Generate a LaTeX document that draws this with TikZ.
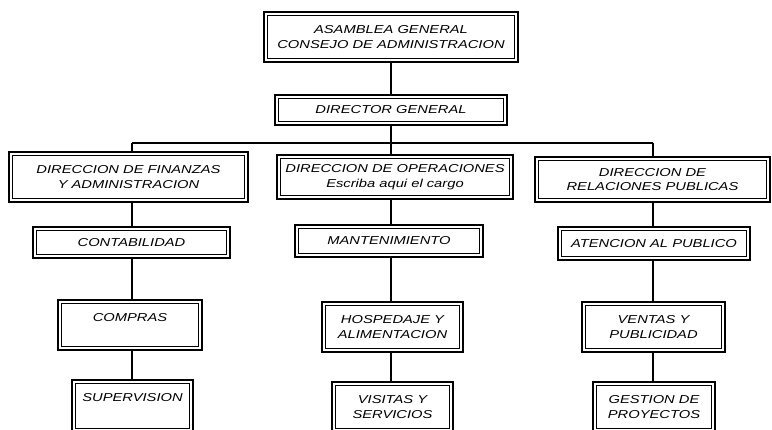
\documentclass[tikz,border=0pt]{standalone}
\usepackage{fontspec}
\setmainfont{Liberation Sans}[FakeStretch=1.28]
\begin{document}
\begin{tikzpicture}[x=1pt,y=-1pt,
  box/.style={draw=black, line width=2pt, fill=white, align=center, inner sep=0pt,
    font=\fontsize{11.5}{14.5}\selectfont\itshape,
    path picture={\draw[line width=0.7pt] ([shift={(3.5pt,-3.5pt)}]path picture bounding box.north west) rectangle ([shift={(-3.5pt,3.5pt)}]path picture bounding box.south east);}},
  conn/.style={draw=black, line width=1.1pt},
  bus/.style={draw=black, line width=1.6pt}]
\useasboundingbox (0,0) rectangle (772,430);
\fill[white] (0,0) rectangle (772,430);

\node[box, minimum width=254pt, minimum height=50pt] (A) at (391,37) {ASAMBLEA GENERAL\\CONSEJO DE ADMINISTRACION};
\node[box, minimum width=232pt, minimum height=30pt] (D) at (391,110) {DIRECTOR GENERAL};

\node[box, minimum width=239pt, minimum height=50pt] (F) at (128.5,177) {DIRECCION DE FINANZAS\\Y ADMINISTRACION};
\node[box, minimum width=236pt, minimum height=44pt] (O) at (395,177) {DIRECCION DE OPERACIONES\\Escriba aqui el cargo};
\node[box, minimum width=235pt, minimum height=45pt] (R) at (652.5,179.5) {DIRECCION DE\\RELACIONES PUBLICAS};

\node[box, minimum width=197pt, minimum height=31pt] (C) at (131.5,242.5) {CONTABILIDAD};
\node[box, minimum width=188pt, minimum height=32pt] (M) at (389,241) {MANTENIMIENTO};
\node[box, minimum width=192pt, minimum height=33pt] (At) at (654,243.5) {ATENCION AL PUBLICO};

\node[box, minimum width=144pt, minimum height=50pt, text depth=16pt] (Co) at (130,325) {COMPRAS};
\node[box, minimum width=141pt, minimum height=50pt] (H) at (392.5,327) {HOSPEDAJE Y\\ALIMENTACION};
\node[box, minimum width=143pt, minimum height=50pt] (V) at (653.5,327) {VENTAS Y\\PUBLICIDAD};

\node[box, minimum width=121pt, minimum height=52pt, text depth=18pt] (S) at (132.5,406) {SUPERVISION};
\node[box, minimum width=121pt, minimum height=50pt] (Vi) at (392.5,407) {VISITAS Y\\SERVICIOS};
\node[box, minimum width=122pt, minimum height=50pt] (G) at (654,407) {GESTION DE\\PROYECTOS};

\coordinate (bL) at (132,143);
\coordinate (bM) at (391,143);
\coordinate (bR) at (653,143);

\draw[conn] (A.south) -- (D.north);
\draw[conn] (D.south) -- (bM);
\draw[bus] (bL) -- (bR);
\draw[conn] (bL) -- (bL |- F.north);
\draw[conn] (bM) -- (bM |- O.north);
\draw[conn] (bR) -- (bR |- R.north);

\draw[conn] (F.south -| bL) -- (C.north -| bL);
\draw[conn] (C.south -| bL) -- (Co.north -| bL);
\draw[conn] (Co.south -| bL) -- (S.north -| bL);

\draw[conn] (O.south -| bM) -- (M.north -| bM);
\draw[conn] (M.south -| bM) -- (H.north -| bM);
\draw[conn] (H.south -| bM) -- (Vi.north -| bM);

\draw[conn] (R.south -| bR) -- (At.north -| bR);
\draw[conn] (At.south -| bR) -- (V.north -| bR);
\draw[conn] (V.south -| bR) -- (G.north -| bR);
\end{tikzpicture}
\end{document}
